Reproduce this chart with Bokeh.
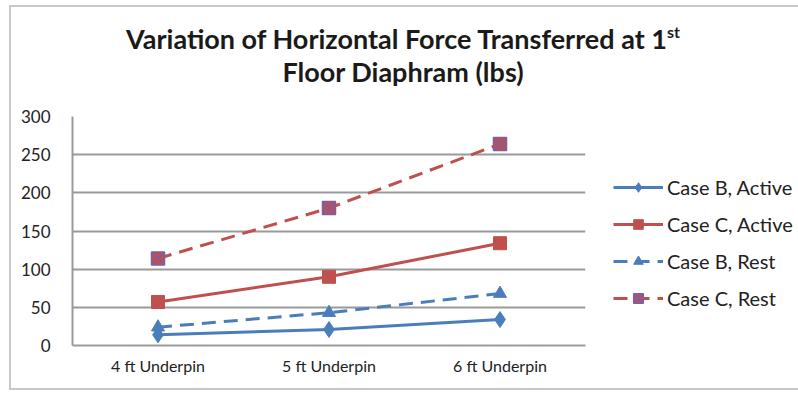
from bokeh.plotting import figure
from bokeh.models import Legend, LegendItem, Range1d, FixedTicker, Div
from bokeh.layouts import column
from bokeh.embed import file_html
from bokeh.resources import INLINE

categories = ["4 ft Underpin", "5 ft Underpin", "6 ft Underpin"]
case_b_active = [14, 21, 34]
case_c_active = [57, 90, 134]
case_b_rest = [24, 43, 68]
case_c_rest = [114, 180, 264]
y_ticks = [0, 50, 100, 150, 200, 250, 300]
title_line1 = "Variation of Horizontal Force Transferred at 1"
title_sup = "st"
title_line2 = "Floor Diaphram (lbs)"

BLUE = "#4A7EBB"
RED = "#C0504D"
PURPLE = "#7B5EA7"
FONT = "Lato"

title_div = Div(
    text=(f'<div style="width:784px;text-align:center;font-family:Lato;font-weight:bold;'
          f'font-size:27px;line-height:33px;color:#1a1a1a;padding-top:15px;">'
          f'{title_line1}<sup style="font-size:16px;line-height:0;vertical-align:11px;">{title_sup}</sup>'
          f'<br>{title_line2}</div>'),
    width=784, height=100, margin=0)

p = figure(x_range=categories, y_range=Range1d(0, 300),
           frame_width=513, frame_height=229,
           min_border_left=61, min_border_top=9, min_border_bottom=43, min_border_right=210,
           output_backend="svg", toolbar_location=None, margin=0)
p.outline_line_color = None
p.background_fill_color = "white"

p.yaxis.ticker = FixedTicker(ticks=y_ticks)
p.yaxis.major_tick_line_color = None
p.yaxis.minor_tick_line_color = None
p.yaxis.axis_line_color = "#9a9a9a"
p.yaxis.axis_line_width = 2
p.yaxis.major_label_text_font = FONT
p.yaxis.major_label_text_font_size = "17px"
p.yaxis.major_label_text_color = "#222222"
p.yaxis.major_label_standoff = 16

p.xaxis.major_tick_line_color = None
p.xaxis.axis_line_color = "#9a9a9a"
p.xaxis.axis_line_width = 2
p.xaxis.major_label_text_font = FONT
p.xaxis.major_label_text_font_size = "16px"
p.xaxis.major_label_text_color = "#222222"
p.xaxis.major_label_standoff = 4

p.xgrid.grid_line_color = None
p.ygrid.grid_line_color = "#9a9a9a"
p.ygrid.grid_line_width = 2

r1l = p.line(categories, case_b_active, color=BLUE, line_width=3)
r1m = p.scatter(categories, case_b_active, marker="diamond", size=16, color=BLUE)
r2l = p.line(categories, case_c_active, color=RED, line_width=3)
r2m = p.scatter(categories, case_c_active, marker="square", size=13, color=RED)
r3l = p.line(categories, case_b_rest, color=BLUE, line_width=3, line_dash="14 8")
r3m = p.scatter(categories, case_b_rest, marker="triangle", size=13, color=BLUE)
r4l = p.line(categories, case_c_rest, color=RED, line_width=3, line_dash="14 8")
r4m = p.scatter(categories, case_c_rest, marker="square_x", size=13,
                fill_color=RED, line_color=PURPLE, line_width=1.5)

legend = Legend(items=[
    LegendItem(label="Case B, Active", renderers=[r1l, r1m]),
    LegendItem(label="Case C, Active", renderers=[r2l, r2m]),
    LegendItem(label="Case B, Rest", renderers=[r3l, r3m]),
    LegendItem(label="Case C, Rest", renderers=[r4l, r4m]),
], location=(28, 35))
legend.glyph_width = 50
legend.glyph_height = 24
legend.label_height = 20
legend.spacing = 13
legend.padding = 0
legend.margin = 0
legend.label_standoff = 4
legend.border_line_color = None
legend.background_fill_alpha = 0
legend.label_text_font = FONT
legend.label_text_font_size = "20px"
legend.label_text_color = "#222222"
p.add_layout(legend, "right")

layout = column(title_div, p, spacing=0)
layout.styles = {"margin-left": "9px", "margin-top": "5px", "border": "2px solid #c8c8c8",
                 "background-color": "white"}

open("out.html", "w").write(file_html(layout, INLINE))
